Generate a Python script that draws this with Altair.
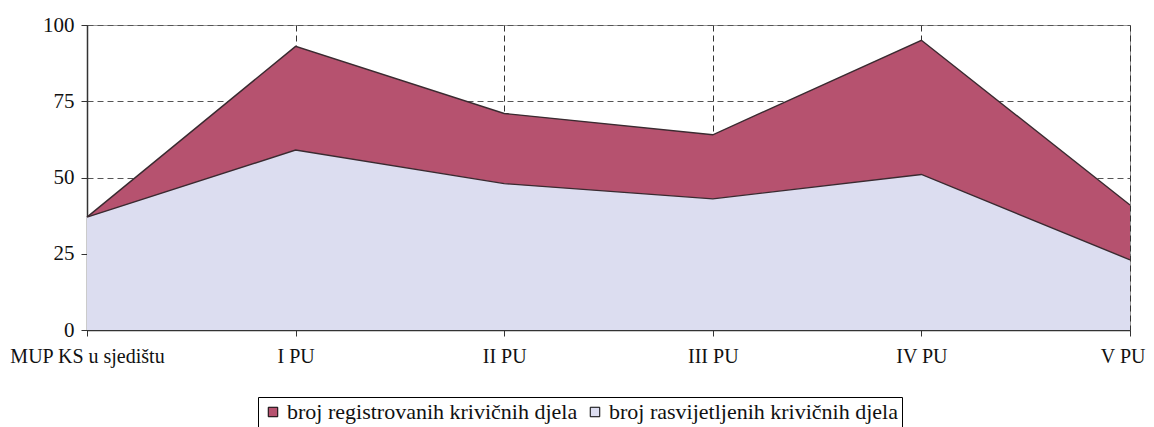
import altair as alt
import pandas as pd

categories = ["MUP KS u sjedištu", "I PU", "II PU", "III PU", "IV PU", "V PU"]
registered = [37, 93, 71, 64, 95, 41]
cleared = [37, 59, 48, 43, 51, 23]
series_names = ["broj registrovanih krivičnih djela", "broj rasvijetljenih krivičnih djela"]
series_colors = ["#B6526F", "#DCDDF0"]
y_ticks = [0, 25, 50, 75, 100]

df_reg = pd.DataFrame({"cat": categories, "val": registered, "series": series_names[0]})
df_clr = pd.DataFrame({"cat": categories, "val": cleared, "series": series_names[1]})

FONT = "'Liberation Serif', 'Times New Roman', 'DejaVu Serif', serif"
LAST = categories[-1]

x_enc = alt.X(
    "cat:N", sort=categories,
    scale=alt.Scale(type="point", padding=0),
    axis=alt.Axis(title=None, labelAngle=0, grid=True, gridDash=[6, 4], gridColor="#333",
                  gridWidth=1, domainColor="#333", domainWidth=1.5, tickColor="#333",
                  tickSize=6, labelPadding=10, labelFont=FONT, labelFontSize=20,
                  labelColor="#111",
                  labelAlign=alt.ExprRef(f"datum.label == '{LAST}' ? 'right' : 'center'"),
                  labelOffset=alt.ExprRef(f"datum.label == '{LAST}' ? 15 : 0")),
)
y_scale = alt.Scale(domain=[0, 100], nice=False)
y_axis = alt.Axis(title=None, values=y_ticks, grid=True, gridDash=[6, 4], gridColor="#555",
                  domainColor="#333", domainWidth=1.5, tickColor="#333", tickSize=6,
                  labelPadding=7, labelFont=FONT, labelFontSize=21, labelColor="#111")

color_scale = alt.Scale(domain=series_names, range=series_colors)
legend = alt.Legend(title=None, orient="none", legendX=171, legendY=372, direction="horizontal",
                    strokeColor="#000", padding=4, symbolType="square", symbolSize=90,
                    symbolStrokeColor="#000", symbolStrokeWidth=1, symbolOpacity=1,
                    labelFont=FONT, labelFontSize=22, labelColor="#111", columnPadding=6,
                    labelLimit=500, labelOffset=3)

line_style = dict(color="#3a2a30", strokeWidth=1.4)

area_reg = alt.Chart(df_reg).mark_area(opacity=1).encode(
    x=x_enc,
    y=alt.Y("val:Q", scale=y_scale, axis=y_axis, stack=None),
    color=alt.Color("series:N", scale=color_scale, legend=legend),
)
line_reg = alt.Chart(df_reg).mark_line(**line_style).encode(
    x=x_enc, y=alt.Y("val:Q", scale=y_scale, stack=None),
)
area_clr = alt.Chart(df_clr).mark_area(opacity=1).encode(
    x=x_enc,
    y=alt.Y("val:Q", scale=y_scale, stack=None),
    color=alt.Color("series:N", scale=color_scale, legend=legend),
)
line_clr = alt.Chart(df_clr).mark_line(**line_style).encode(
    x=x_enc, y=alt.Y("val:Q", scale=y_scale, stack=None),
)

chart = alt.layer(area_reg, line_reg, area_clr, line_clr).properties(
    width=1043, height=305,
    autosize=alt.AutoSizeParams(type="none"),
    padding={"left": 79, "top": 17, "right": 16, "bottom": 97},
    background="white",
).configure_view(stroke="#999", strokeWidth=1)

chart.save("out.html", embed_options={"renderer": "svg", "actions": False})
